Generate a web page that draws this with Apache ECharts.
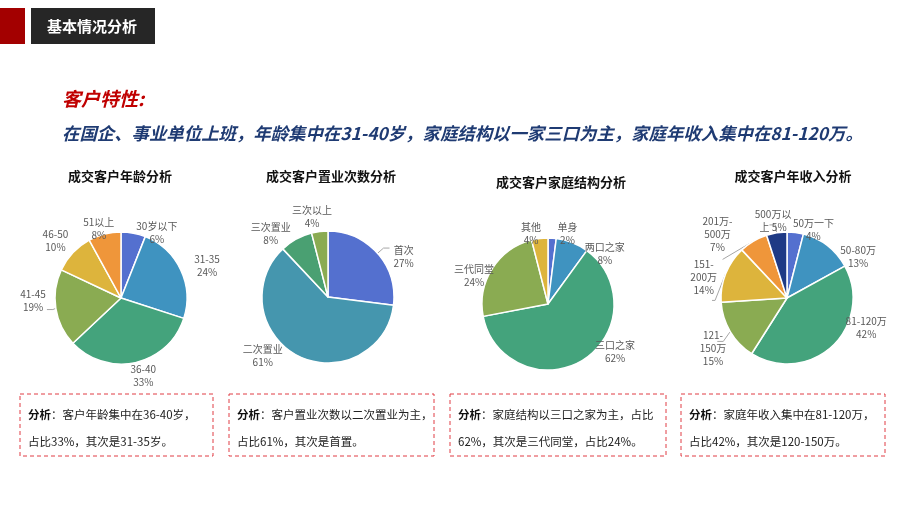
<!DOCTYPE html>
<html><head><meta charset="utf-8">
<script src="https://cdn.jsdelivr.net/npm/echarts@6/dist/echarts.min.js"></script>
<style>html,body{margin:0;padding:0;background:#fff}#c{width:920px;height:518px}</style>
</head><body><div id="c"></div>
<script>
// ---- data ----
const ageNames = ['30岁以下','31-35','36-40','41-45','46-50','51以上'];
const ageValues = [6,24,33,19,10,8];
const buyNames = ['首次','二次置业','三次置业','三次以上'];
const buyValues = [27,61,8,4];
const famNames = ['单身','两口之家','三口之家','三代同堂','其他'];
const famValues = [2,8,62,24,4];
const incNames = ['50万一下','50-80万','81-120万','121-150万','151-200万','201万-500万','500万以上'];
const incLabels = ['50万一下\n','50-80万\n','81-120万\n','121-\n150万\n','151-\n200万\n','201万-\n500万\n','500万以\n上 '];
const incValues = [4,13,42,15,14,7,5];
const chartTitles = ['成交客户年龄分析','成交客户置业次数分析','成交客户家庭结构分析','成交客户年收入分析'];
const notes = [
  ['客户年龄集中在36-40岁，','占比33%，其次是31-35岁。'],
  ['客户置业次数以二次置业为主，','占比61%，其次是首置。'],
  ['家庭结构以三口之家为主，占比','62%，其次是三代同堂，占比24%。'],
  ['家庭年收入集中在81-120万，','占比42%，其次是120-150万。']
];

// ---- styling ----
const FONT = '"Noto Sans CJK SC","Microsoft YaHei",sans-serif';
const palette = ['#5470cf','#3f93c0','#44a37c','#8aab52','#ddb43c','#ef963a','#1f3a85'];
const palette2 = ['#5470cf','#4596ae','#4aa072','#8aab52'];
// small label nudges (px) to mimic the reference's label placement
const nudgeAge = [[-5,4],[2,-2],[-13,8],[4,-9],[8,-17],[18,-1]];
const nudgeBuy = [[-1,9],[-6,-5],[22,-21],[20,-10]];
const nudgeFam = [[-2,1],[-22,-7],[2,-12],[13,10],[9,0]];
const nudgeInc = [[-10,2],[-6,1],[3,-22],[14,7],[10,-23],[15,-25],[27,-4]];

function pieSeries(names, values, center, colors, labels, lineIdx, nudge){
  lineIdx = lineIdx || [];
  return {
    type:'pie', radius:66, center:center, startAngle:90, clockwise:true,
    avoidLabelOverlap:true,
    itemStyle:{borderColor:'#fff', borderWidth:1.5},
    label:{show:true, position:'outside', color:'#595959', fontSize:10, fontFamily:FONT, lineHeight:13,
      rich:{a:{align:'center', fontSize:10, lineHeight:13, color:'#595959', fontFamily:FONT}},
      formatter:function(p){
        const n = labels ? labels[p.dataIndex] : p.name + '\n';
        const txt = n + p.value + '%';
        return txt.split('\n').map(s=>'{a|'+s+'}').join('\n');
      }},
    labelLine:{show:false, length:5, length2:2, lineStyle:{color:'#a6a6a6', width:1}},
    labelLayout: function(p){ const o = nudge[p.dataIndex] || [0,0]; return {dx:o[0], dy:o[1]}; },
    emphasis:{disabled:true},
    data: names.map((n,i)=>{
      const d = {name:n, value:values[i], itemStyle:{color:colors[i]}};
      if (lineIdx.indexOf(i) >= 0) d.labelLine = {show:true, length:8, length2:6};
      return d;
    })
  };
}

const titleX = [120, 331, 561, 793];
const titleY = [176, 176, 182, 176];
const boxes = [[20,394,193,62],[229,394,205,62],[450,394,216,62],[681,394,204,62]];

const graphics = [
  {type:'rect', shape:{x:0,y:8,width:25,height:36}, style:{fill:'#a30000'}},
  {type:'rect', shape:{x:31,y:8,width:124,height:36}, style:{fill:'#262626'}},
  {type:'text', x:92, y:26, style:{text:'基本情况分析', fill:'#fff', font:'bold 15px '+FONT, align:'center', verticalAlign:'middle'}},
  {type:'text', x:62, y:99, style:{text:'客户特性:', fill:'#c00000', font:'italic bold 19px '+FONT, verticalAlign:'middle'}},
  {type:'text', x:62, y:133, style:{text:'在国企、事业单位上班，年龄集中在31-40岁，家庭结构以一家三口为主，家庭年收入集中在81-120万。', fill:'#1f3b73', font:'italic bold 17.4px '+FONT, verticalAlign:'middle'}}
];
chartTitles.forEach((t,i)=>{
  graphics.push({type:'text', x:titleX[i], y:titleY[i], style:{text:t, fill:'#111', font:'bold 13px '+FONT, align:'center', verticalAlign:'middle'}});
});
boxes.forEach((b,i)=>{
  graphics.push({type:'rect', shape:{x:b[0],y:b[1],width:b[2],height:b[3]}, style:{fill:'none', stroke:'#e03c44', lineWidth:1, lineDash:[4,3]}});
  graphics.push({type:'text', x:b[0]+8, y:415, style:{text:'{b|分析}：'+notes[i][0], rich:{b:{font:'bold 11.5px '+FONT, fill:'#111'}}, fill:'#222', font:'11.5px '+FONT, verticalAlign:'middle'}});
  graphics.push({type:'text', x:b[0]+8, y:442, style:{text:notes[i][1], fill:'#222', font:'11.5px '+FONT, verticalAlign:'middle'}});
});

const chart = echarts.init(document.getElementById('c'));
chart.setOption({
  animation:false,
  graphic: graphics,
  series:[
    pieSeries(ageNames, ageValues, [121,298], palette, null, [3], nudgeAge),
    pieSeries(buyNames, buyValues, [328,297], palette2, null, [0], nudgeBuy),
    pieSeries(famNames, famValues, [548,304], palette, null, [], nudgeFam),
    pieSeries(incNames, incValues, [787,298], palette, incLabels, [3,4,5,6], nudgeInc)
  ]
});
</script></body></html>
